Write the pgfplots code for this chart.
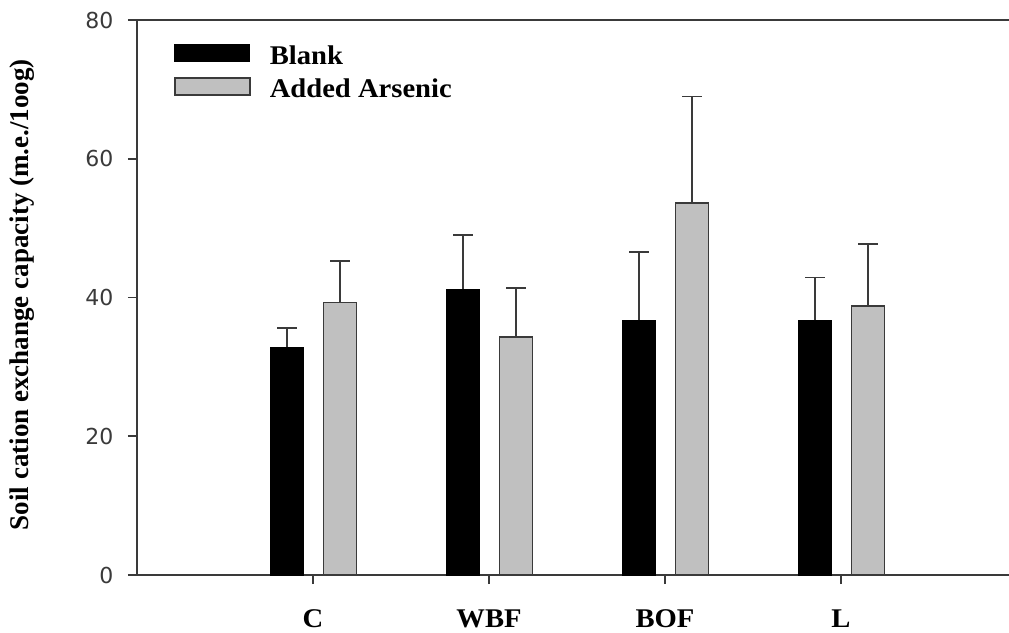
\documentclass[border=0pt]{standalone}
\usepackage{fontspec}
\setmainfont{Liberation Serif}
\newfontfamily\lab{Liberation Serif}[FakeStretch=1.06]
\newfontfamily\num{DejaVu Sans}
\usepackage{pgfplots}
\pgfplotsset{compat=1.18}
\definecolor{axisgray}{HTML}{3A3A3A}
\definecolor{bargray}{HTML}{C0C0C0}
\begin{document}
\begin{tikzpicture}
\useasboundingbox (-137pt,-57pt) rectangle (872pt,575pt);
\begin{axis}[
  scale only axis,
  width=880pt, height=555pt,
  xmin=-1, xmax=4,
  ymin=0, ymax=80,
  ytick={0,20,40,60,80},
  xtick={0,1,2,3},
  xticklabels={C,WBF,BOF,L},
  xtick pos=bottom, ytick pos=left,
  tick align=outside,
  major tick length=9pt,
  axis line style={draw=axisgray, line width=1.6pt},
  every tick/.style={draw=axisgray, line width=1.6pt},
  /pgf/number format/assume math mode=true,
  yticklabel style={font={\fontsize{22}{26}\selectfont\num}, text=axisgray, xshift=-11pt},
  xticklabel style={font={\fontsize{27}{32}\selectfont\lab\bfseries}, yshift=-22pt},
  ylabel={\fontsize{27}{32}\selectfont\bfseries Soil cation exchange capacity (m.e./1oog)},
  ylabel style={at={(axis description cs:-0.13,0.505)}, anchor=center},
  ybar, bar width=33pt,
  legend style={draw=none, fill=none, inner sep=0pt, at={(axis description cs:0.042,0.9568)}, anchor=north west,
    font={\fontsize{27}{32}\selectfont\lab\bfseries}, row sep=6pt,
    nodes={inner sep=0pt, text height=20pt, text depth=7pt},
    /tikz/every odd column/.append style={column sep=19pt}},
  legend cell align=left,
  legend image code/.code={\draw[#1, bar shift=0pt] (0pt,-4pt) rectangle (75pt,13pt);},
  error bars/error bar style={draw=axisgray, line width=1.6pt},
  error bars/error mark options={rotate=90, mark size=10pt, draw=axisgray, line width=1.6pt},
]
\addplot[fill=black, draw=black, line width=1pt, bar shift=-26pt,
  error bars/.cd, y dir=plus, y explicit]
  coordinates {
    (0,32.8) +- (0,2.8)
    (1,41.2) +- (0,7.8)
    (2,36.7) +- (0,9.9)
    (3,36.7) +- (0,6.2)
  };
\addplot[fill=bargray, draw=axisgray, line width=1.6pt, bar shift=27pt,
  error bars/.cd, y dir=plus, y explicit]
  coordinates {
    (0,39.3) +- (0,6.0)
    (1,34.3) +- (0,7.1)
    (2,53.6) +- (0,15.4)
    (3,38.8) +- (0,8.9)
  };
\legend{Blank,Added Arsenic}
\end{axis}
\end{tikzpicture}
\end{document}
